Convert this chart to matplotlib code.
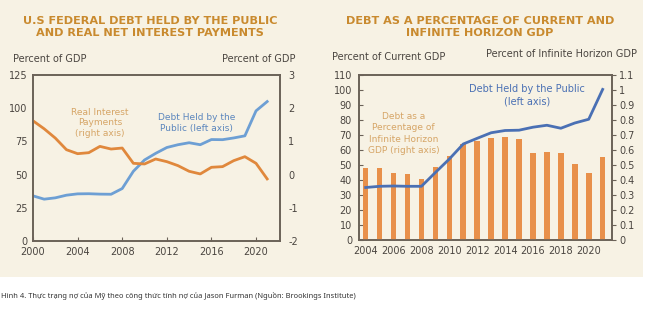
import matplotlib.pyplot as plt
from matplotlib.patches import Rectangle

plt.rcParams['axes.unicode_minus'] = False

# Panel 1: US federal debt held by the public and real net interest
years1 = list(range(2000, 2022))
debt1 = [34, 31.5, 32.5, 34.5, 35.5, 35.6, 35.3, 35.2, 39.5, 52.5, 61, 66, 70.4,
         72.5, 74, 72.5, 76.4, 76.3, 77.6, 79.2, 98, 105]
interest = [1.62, 1.38, 1.1, 0.75, 0.63, 0.66, 0.85, 0.77, 0.8, 0.34, 0.32, 0.47,
            0.39, 0.27, 0.1, 0.02, 0.22, 0.24, 0.42, 0.54, 0.34, -0.13]

# Panel 2: debt as % of current and infinite-horizon GDP
years2 = list(range(2004, 2022))
debt2 = [35, 35.8, 36, 35.8, 35.8, 45, 54, 64, 67.8, 71.5, 73, 73.2, 75.2, 76.5,
         74.5, 78, 80.5, 100.4]
infinite = [0.48, 0.48, 0.445, 0.44, 0.405, 0.49, 0.56, 0.64, 0.66, 0.68, 0.685,
            0.67, 0.58, 0.59, 0.58, 0.51, 0.45, 0.55]

cream = '#f7f2e4'
title_col = '#c98a2e'
frame_col = '#6b6258'
tick_col = '#4a4540'
tan = '#d6a566'

fig = plt.figure(figsize=(6.5, 3.24), dpi=100, facecolor='white')
fig.patches.append(Rectangle((0, 1 - 277 / 324), 643 / 650, 277 / 324,
                             transform=fig.transFigure, facecolor=cream,
                             edgecolor='none', zorder=-5))

def px(x, y):
    return x / 650, 1 - y / 324

# ---- left panel
ax1 = fig.add_axes([33 / 650, 83 / 324, 247 / 650, 166 / 324])
ax1.set_facecolor(cream)
ax1.plot(years1, debt1, color='#6d9fd4', lw=2)
ax1.set_xlim(2000, 2022.15)
ax1.set_ylim(0, 125)
ax1.set_yticks([0, 25, 50, 75, 100, 125])
ax1.set_xticks([2000, 2004, 2008, 2012, 2016, 2020])
ax1.tick_params(axis='y', length=0, pad=4, labelsize=7, labelcolor=tick_col)
ax1.tick_params(axis='x', direction='in', length=3, color=frame_col, pad=4,
                labelsize=7, labelcolor=tick_col)
ax1b = ax1.twinx()
ax1b.plot(years1, interest, color='#e0883c', lw=2)
ax1b.set_ylim(-2, 3)
ax1b.set_yticks([-2, -1, 0, 1, 2, 3])
ax1b.tick_params(axis='y', length=0, pad=6, labelsize=7, labelcolor=tick_col)
for a in (ax1, ax1b):
    for s in a.spines.values():
        s.set_color(frame_col)
        s.set_linewidth(1.2)
ax1.text(2006, 89, 'Real Interest\nPayments\n(right axis)', color=tan,
         fontsize=6.5, ha='center', va='center', linespacing=1.2)
ax1.text(2014.7, 89, 'Debt Held by the\nPublic (left axis)', color='#5b86bd',
         fontsize=6.5, ha='center', va='center', linespacing=1.2)

# ---- right panel
ax2 = fig.add_axes([359 / 650, 84 / 324, 253 / 650, 165 / 324])
ax2.set_facecolor(cream)
ax2b = ax2.twinx()
ax2b.bar(years2, infinite, width=0.4, color='#e8904a', zorder=1)
ax2b.set_ylim(0, 1.1)
ax2b.set_yticks([i / 10 for i in range(12)])
ax2b.set_yticklabels(['0', '0.1', '0.2', '0.3', '0.4', '0.5', '0.6', '0.7',
                      '0.8', '0.9', '1', '1.1'])
ax2b.tick_params(axis='y', direction='out', length=3, color=frame_col, pad=2,
                 labelsize=7, labelcolor=tick_col)
ax2c = ax2.twinx()
ax2c.plot(years2, debt2, color='#4a70b4', lw=2)
ax2c.set_ylim(0, 110)
ax2c.axis('off')
ax2.set_xlim(2003.52, 2021.67)
ax2.set_ylim(0, 110)
ax2.set_yticks(range(0, 111, 10))
ax2.set_xticks(range(2004, 2021, 2))
ax2.tick_params(axis='y', direction='in', length=3, color=frame_col, pad=5,
                labelsize=7, labelcolor=tick_col)
ax2.tick_params(axis='x', direction='in', length=3, color=frame_col, pad=4,
                labelsize=7, labelcolor=tick_col)
for a in (ax2, ax2b):
    for s in a.spines.values():
        s.set_color(frame_col)
        s.set_linewidth(1.2)
ax2c.text(2006.7, 71, 'Debt as a\nPercentage of\nInfinite Horizon\nGDP (right axis)',
          color=tan, fontsize=6.5, ha='center', va='center', linespacing=1.3)
ax2c.text(2015.6, 96.5, 'Debt Held by the Public\n(left axis)', color='#4a70b4',
          fontsize=7, ha='center', va='center', linespacing=1.2)

# ---- titles and axis captions
fig.text(*px(150, 27), 'U.S FEDERAL DEBT HELD BY THE PUBLIC\nAND REAL NET INTEREST PAYMENTS',
         ha='center', va='center', color=title_col, fontsize=8.1, fontweight='bold',
         linespacing=1.2)
fig.text(*px(480, 27), 'DEBT AS A PERCENTAGE OF CURRENT AND\nINFINITE HORIZON GDP',
         ha='center', va='center', color=title_col, fontsize=8.1, fontweight='bold',
         linespacing=1.2)
fig.text(*px(13, 59), 'Percent of GDP', ha='left', va='center', fontsize=7, color=tick_col)
fig.text(*px(296, 59), 'Percent of GDP', ha='right', va='center', fontsize=7, color=tick_col)
fig.text(*px(332, 57), 'Percent of Current GDP', ha='left', va='center', fontsize=7,
         color=tick_col)
fig.text(*px(637, 54), 'Percent of Infinite Horizon GDP', ha='right', va='center',
         fontsize=7, color=tick_col)
fig.text(*px(1, 296), 'Hình 4. Thực trạng nợ của Mỹ theo công thức tính nợ của Jason Furman '
         '(Nguồn: Brookings Institute)', ha='left', va='center', fontsize=5.4,
         color='#333333', family='Noto Sans')

fig.savefig('out.png', dpi=100, facecolor='white')
